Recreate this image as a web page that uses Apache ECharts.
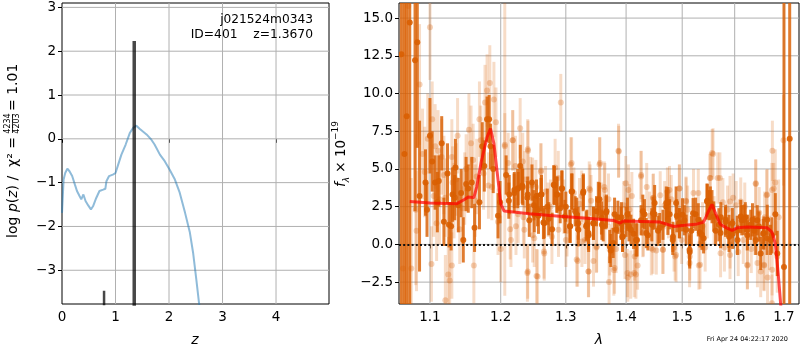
<!DOCTYPE html>
<html><head><meta charset="utf-8">
<script src="https://cdn.jsdelivr.net/npm/echarts@6/dist/echarts.min.js"></script>
<style>html,body{margin:0;padding:0;background:#fff}#c{width:800px;height:350px}</style>
</head><body><div id="c"></div>
<script>
// ---------- Left panel: log p(z) ----------
const pzZ   = [0.00,0.03,0.06,0.10,0.14,0.19,0.24,0.28,0.33,0.36,0.40,0.44,0.49,0.54,0.58,0.64,0.70,0.77,0.81,0.83,0.88,0.96,1.00,1.05,1.11,1.19,1.27,1.33,1.39,1.45,1.58,1.67,1.73,1.83,1.92,2.01,2.11,2.20,2.30,2.39,2.45,2.51,2.56,2.60];
const pzLog = [-1.69,-0.93,-0.78,-0.68,-0.74,-0.85,-1.04,-1.19,-1.31,-1.38,-1.27,-1.42,-1.52,-1.61,-1.54,-1.35,-1.19,-1.16,-1.14,-0.97,-0.85,-0.81,-0.78,-0.59,-0.36,-0.13,0.14,0.25,0.30,0.23,0.10,-0.02,-0.13,-0.36,-0.51,-0.70,-0.93,-1.23,-1.69,-2.14,-2.60,-3.21,-3.74,-4.10];
const spikeZ   = [0.786, 1.35];
const spikeTop = [-3.47, 2.23];
const leftXTicks = [0,1,2,3,4];
const leftYTicks = [-3,-2,-1,0,1,2,3];
const leftXRange = [0, 4.99];
const leftYRange = [-3.77, 3.1];

// ---------- Right panel: spectrum ----------
const modelWave = [1.073,1.100,1.137,1.147,1.153,1.161,1.165,1.172,1.180,1.185,1.190,1.195,1.200,1.205,1.243,1.290,1.345,1.378,1.390,1.395,1.460,1.485,1.500,1.525,1.540,1.550,1.556,1.563,1.572,1.585,1.595,1.605,1.625,1.665,1.675,1.682,1.688,1.693,1.696];
const modelFlux = [2.85,2.74,2.70,2.96,3.14,3.10,3.80,5.57,7.10,7.67,6.68,4.69,2.70,2.21,2.03,1.86,1.70,1.59,1.41,1.55,1.48,1.19,1.26,1.33,1.48,2.25,2.65,2.04,1.33,1.08,0.93,1.10,1.15,1.11,0.82,0.05,-1.94,-3.93,-5.0];

const darkWave = [1.062,1.066,1.069,1.073,1.080,1.083,1.086,1.094,1.096,1.100,1.103,1.107,1.110,1.112,1.116,1.119,1.124,1.126,1.129,1.131,1.134,1.135,1.139,1.143,1.146,1.150,1.153,1.158,1.162,1.169,1.173,1.176,1.180,1.183,1.185,1.189,1.196,1.199,1.208,1.212,1.220,1.226,1.232,1.240,1.247,1.250,1.254,1.257,1.261,1.266,1.273,1.282,1.286,1.291,1.294,1.300,1.307,1.310,1.315,1.320,1.328,1.334,1.337,1.345,1.350,1.355,1.359,1.366,1.374,1.378,1.386,1.392,1.394,1.400,1.405,1.413,1.419,1.426,1.432,1.438,1.445,1.450,1.456,1.465,1.471,1.474,1.477,1.483,1.490,1.495,1.504,1.514,1.517,1.525,1.533,1.540,1.547,1.551,1.556,1.563,1.573,1.582,1.589,1.596,1.605,1.614,1.621,1.625,1.632,1.639,1.645,1.652,1.657,1.665,1.675,1.682,1.686,1.700,1.712,
  1.2126,1.2202,1.2253,1.2292,1.2329,1.2405,1.2429,1.2505,1.2556,1.2617,1.2647,1.2708,1.2783,1.2808,1.2859,1.2935,1.2985,1.3066,1.3093,1.3175,1.3202,1.3284,1.3328,1.3366,1.3448,1.3530,1.3585,1.3612,1.3667,1.3721,1.3803,1.3831,1.3913,1.3940,1.4023,1.4084,1.4173,
  1.4291,1.4352,1.4470,1.4500,1.4590,1.4709,1.4738,1.4827,1.4888,1.4946,1.5006,1.5073,1.5137,1.5202,1.5300,1.5367,1.5465,1.5529,1.5594,1.5692,1.5725,1.5824,1.5888,1.5955,1.6054,1.6120,1.6186,1.6254,1.6354,1.6420,1.6486,1.6586,1.6654,1.6720];
const darkFlux = [12.6,6.0,8.5,14.7,12.2,13.4,3.2,4.1,2.3,7.2,5.5,4.1,2.8,4.2,6.7,1.5,4.7,1.3,1.2,3.3,3.1,5.1,2.6,3.4,0.3,4.0,3.7,4.1,1.1,2.8,6.5,5.2,8.3,8.3,6.5,5.0,1.9,2.8,4.6,2.9,3.4,3.7,3.9,3.1,4.1,2.6,3.2,1.9,3.3,1.4,1.7,3.9,3.3,2.4,3.7,2.5,1.2,3.5,2.2,1.4,3.4,1.3,0.6,1.4,2.2,3.0,1.3,2.1,-0.4,0.1,1.8,1.8,0.5,1.5,1.2,0.7,0.3,1.6,2.0,0.6,1.3,2.0,0.9,1.3,2.5,2.8,2.0,0.5,1.9,1.4,1.6,-0.5,0.9,2.0,0.8,0.4,2.9,2.6,2.5,0.9,1.8,1.5,0.5,0.7,0.9,1.6,1.8,0.6,1.3,0.9,1.6,-0.6,0.7,0.4,0.6,2.0,-0.6,-1.5,7.0,
  3.3,3.6,3.7,5.2,3.8,3.3,1.6,2.0,2.3,3.3,1.45,2.5,1.0,3.95,3.3,3.7,1.85,1.2,3.5,2.0,0.97,3.5,1.2,0.75,1.4,2.95,1.75,1.2,2.2,-0.14,2.0,0.97,1.4,0.5,2.0,0.97,0.3,
  2.2,0.75,2.07,2.74,1.08,2.74,1.63,0.3,2.74,1.41,1.96,0.97,-0.36,2.07,1.63,0.64,2.84,2.74,1.85,1.3,0.75,1.63,0.86,1.41,0.3,1.85,1.63,0.97,1.63,0.3,1.19,0.75,1.63,0.3];
const darkErr  = [30,30,25,25,10,7,5,2.2,1.8,2.5,2.0,1.8,2.0,1.7,1.8,1.6,2.0,1.5,1.6,1.8,1.5,1.9,1.8,1.6,1.5,1.8,1.6,1.7,1.6,1.8,1.6,1.7,1.5,1.6,1.5,1.6,1.5,1.4,1.3,1.2,1.3,1.1,1.2,1.1,1.2,1.0,1.1,1.2,1.1,1.0,1.1,1.3,1.2,1.0,1.2,1.0,1.1,1.2,1.0,1.1,1.2,1.0,1.1,1.1,1.0,1.1,1.0,1.1,1.1,1.0,1.1,1.0,1.0,1.0,1.0,1.0,1.1,1.0,1.0,1.0,1.1,1.0,1.0,1.0,1.1,1.0,1.0,1.0,1.1,1.0,1.0,1.1,1.0,1.1,1.0,1.0,1.1,1.0,1.1,1.0,1.0,1.0,1.0,1.0,1.0,1.0,1.0,1.0,1.0,1.0,1.0,1.1,1.0,1.1,1.2,1.4,1.5,25,30,
  1.3,1.2,1.3,1.4,1.2,1.2,1.1,1.2,1.1,1.3,1.1,1.2,1.1,1.3,1.2,1.2,1.1,1.1,1.2,1.1,1.1,1.2,1.0,1.1,1.1,1.2,1.1,1.0,1.1,1.1,1.1,1.0,1.1,1.0,1.1,1.0,1.1,
  1.1,1.0,1.1,1.2,1.0,1.1,1.0,1.0,1.1,1.0,1.1,1.0,1.1,1.0,1.1,1.0,1.2,1.1,1.0,1.1,1.0,1.0,1.1,1.0,1.0,1.1,1.0,1.0,1.1,1.0,1.0,1.1,1.0,1.0];

const lightWave = [1.064,1.071,1.075,1.081,1.082,1.086,1.090,1.093,1.097,1.100,1.102,1.103,1.105,1.107,1.109,1.111,1.113,1.116,1.119,1.121,1.121,1.125,1.127,1.130,1.130,1.131,1.133,1.136,1.138,1.141,1.145,1.148,1.150,1.154,1.157,1.160,1.161,1.163,1.165,1.169,1.171,1.175,1.177,1.180,1.182,1.184,1.187,1.190,1.193,1.196,1.200,1.206,1.211,1.214,1.218,1.222,1.226,1.229,1.234,1.236,1.240,1.241,1.245,1.248,1.253,1.254,1.261,1.266,1.268,1.272,1.278,1.283,1.288,1.292,1.297,1.302,1.308,1.313,1.319,1.322,1.326,1.331,1.337,1.338,1.341,1.345,1.350,1.355,1.358,1.363,1.364,1.370,1.371,1.377,1.379,1.383,1.387,1.396,1.398,1.403,1.404,1.408,1.410,1.415,1.417,1.420,1.426,1.430,1.436,1.441,1.447,1.448,1.453,1.460,1.465,1.468,1.473,1.475,1.480,1.485,1.487,1.495,1.499,1.507,1.510,1.514,1.521,1.531,1.538,1.543,1.547,1.552,1.558,1.560,1.567,1.577,1.580,1.586,1.591,1.597,1.603,1.607,1.617,1.620,1.625,1.633,1.640,1.642,1.649,1.652,1.659,1.660,1.664,1.666,1.670,1.675,1.675,1.676,1.682,1.686,1.689,1.699,
  1.2060,1.2177,1.2405,1.2329,1.2606,1.2480,1.2758,1.2152,1.2227,1.2353,1.2505,1.2656,1.2405,1.2556,1.2883,1.3001,1.3093,1.3175,1.3257,1.3394,1.3557,1.3639,1.3503,1.3366,1.3803,1.3721,1.3874,1.3994,1.4059,1.4023,1.4141,
  1.4262,1.4470,1.4768,1.4946,1.5073,1.5300,1.5563,1.5712,1.5529,1.5908,1.6120,1.6420,1.6654,1.6787,1.4888,1.5137,1.5333,1.5725,1.5908,1.6254,1.6454,1.6586,1.6754,1.4441,1.4648,1.4291];
const lightFlux = [-1.6,15.8,-1.6,2.3,0.9,10.6,6.0,4.8,7.0,14.4,-1.3,8.3,3.2,6.5,1.4,6.2,3.0,5.8,4.6,3.1,-3.7,-2.0,-2.4,-1.4,5.8,4.1,2.9,4.3,7.2,1.0,2.4,3.7,5.0,7.6,6.7,5.6,-1.4,2.9,4.5,8.3,6.9,4.7,9.4,10.2,3.9,10.7,3.8,9.6,8.1,1.5,-0.3,6.5,5.4,1.0,6.9,5.2,2.0,7.7,1.8,4.3,-1.9,6.2,3.9,0.6,3.8,-2.1,4.9,-0.6,3.5,2.3,0.5,5.1,4.4,9.4,2.5,0.9,5.3,3.4,-1.1,2.7,0.2,0.3,-1.8,3.7,2.9,-1.1,-0.2,5.3,2.4,3.8,1.6,3.0,-2.5,0.9,-1.7,-0.3,6.2,2.6,-0.7,-2.2,3.6,-2.0,3.2,-0.8,-2.0,-1.4,4.5,0.8,3.8,1.9,-0.35,3.1,-0.4,3.25,-0.35,2.6,3.5,2.0,3.0,-0.2,-0.8,3.7,0.3,2.9,2.3,-0.8,3.4,-1.4,1.2,-0.2,2.0,4.4,6.0,1.6,4.4,2.8,-0.2,2.3,0.0,3.1,2.6,-0.5,0.3,2.5,-1.4,-0.3,0.9,4.0,2.1,-1.8,-1.4,1.8,3.25,-2.2,0.1,3.6,-3.9,6.2,4.1,-0.8,1.8,6.9,
  6.6,6.9,6.3,5.5,4.8,3.95,2.5,0.3,1.2,0.97,0.4,-0.47,-1.8,-2.13,0.97,0.3,5.4,-1.0,3.2,3.6,5.4,3.6,-0.14,-1.8,-1.57,-0.36,6.16,4.06,2.3,-1.9,-1.9,
  4.6,3.07,3.6,3.7,2.84,3.4,6.05,4.4,4.4,2.84,2.84,4.06,3.3,3.7,-0.7,-1.24,-1.35,-0.58,-0.7,-1.35,-1.24,-1.35,-1.68,-0.25,-0.36,0.75];
const lightErr  = [20,20,6,5,4,4,3,3,3,3.5,2.5,2.5,2.7,2.8,2.5,2.7,3,2.5,2.6,2.6,3,2.5,2.5,2.2,2.5,2.4,2.5,2.4,2.5,2.3,2.5,2.4,2.3,2.4,2.5,2.4,2.5,2.4,2.5,2.5,2.3,2.4,2.5,2.4,2.2,2.5,2.2,2.5,2.3,2.2,2.2,2.2,2.0,2.0,2.0,2.0,1.9,2.0,1.9,1.9,1.9,2.0,1.9,1.8,1.8,1.8,1.8,1.8,1.7,1.8,1.8,1.9,1.8,1.9,1.8,1.7,1.8,1.7,1.7,1.7,1.7,1.6,1.7,1.8,1.7,1.7,1.7,1.8,1.7,1.7,1.7,1.7,1.7,1.6,1.7,1.6,1.8,1.6,1.6,1.6,1.7,1.6,1.6,1.6,1.6,1.6,1.7,1.6,1.6,1.6,1.6,1.6,1.6,1.6,1.6,1.6,1.6,1.6,1.6,1.6,1.6,1.6,1.6,1.6,1.6,1.6,1.6,1.6,1.6,1.6,1.6,1.6,1.7,1.6,1.7,1.6,1.6,1.6,1.6,1.6,1.6,1.6,1.6,1.6,1.6,1.6,1.6,1.6,1.7,1.7,1.7,1.7,1.7,1.8,1.8,1.8,1.9,2.0,2.2,2.4,2.5,3,10,
  2.0,2.0,1.9,1.9,1.8,1.8,1.8,1.9,1.9,1.9,1.8,1.8,1.8,1.8,1.8,1.7,1.8,1.7,1.7,1.7,1.8,1.7,1.7,1.7,1.7,1.7,1.8,1.7,1.6,1.6,1.6,
  1.6,1.6,1.6,1.6,1.6,1.6,1.7,1.7,1.7,1.6,1.6,1.7,1.7,1.8,1.6,1.6,1.6,1.6,1.6,1.6,1.7,1.7,1.8,1.6,1.6,1.6];
const rightXTicks = [1.1,1.2,1.3,1.4,1.5,1.6,1.7];
const rightYTicks = [-2.5,0,2.5,5,7.5,10,12.5,15];
const zeroLevel = 0;

// ---------- chart ----------
const FONT = 'DejaVu Sans';
const minus = s => String(s).replace('-', '\u2212');
const chart = echarts.init(document.getElementById('c'), null, {renderer:'canvas'});

function errRender(barColor, dotColor, r, lw){
  return function(params, api){
    const x = api.value(0), y = api.value(1), e = api.value(2);
    const c = api.coord([x, y]), t = api.coord([x, y + e]), b = api.coord([x, y - e]);
    return {type:'group', children:[
      {type:'line', shape:{x1:c[0], y1:t[1], x2:c[0], y2:b[1]}, style:{stroke:barColor, lineWidth:lw}},
      {type:'circle', shape:{cx:c[0], cy:c[1], r:r}, style:{fill:dotColor}}
    ]};
  };
}
// grid lines drawn through the axes' own scales (kind 0 = vertical, 1 = horizontal)
function gridSeries(idx, xs, ys, z){
  const data = [...xs.map(v=>[0, v]), ...ys.map(v=>[1, v])];
  return {type:'custom', xAxisIndex:idx, yAxisIndex:idx, silent:true, z:z, clip:false,
    data:data,
    renderItem:function(params, api){
      const cs = params.coordSys, kind = api.value(0), v = api.value(1);
      let shape;
      if (kind === 0) { const px = api.coord([v, 0])[0]; shape = {x1:px, y1:cs.y, x2:px, y2:cs.y + cs.height}; }
      else { const py = api.coord([0, v])[1]; shape = {x1:cs.x, y1:py, x2:cs.x + cs.width, y2:py}; }
      return {type:'line', shape:shape, style:{stroke:'#b0b0b0', lineWidth:1}};
    }};
}
const tickStyle = {length:4, lineStyle:{color:'#000', width:1}};
const labelStyle = {color:'#000', fontSize:13.5, fontFamily:FONT, hideOverlap:false};

const series = [];
series.push(gridSeries(0, leftXTicks.slice(1), leftYTicks, 3));
series.push(gridSeries(1, rightXTicks.map(Math.log), rightYTicks, 1));
series.push({type:'line', xAxisIndex:0, yAxisIndex:0, showSymbol:false, z:5, clip:true,
  lineStyle:{color:'rgba(31,119,180,0.5)', width:2}, data:pzZ.map((z,i)=>[z, pzLog[i]])});
spikeZ.forEach((z,i)=>{
  series.push({type:'line', xAxisIndex:0, yAxisIndex:0, showSymbol:false, z:6, clip:true,
    lineStyle:{color:'rgba(0,0,0,0.72)', width: i===1 ? 3.5 : 2.5}, data:[[z,-5],[z,spikeTop[i]]]});
});
series.push({type:'custom', xAxisIndex:1, yAxisIndex:1, z:3, clip:true,
  renderItem: errRender('rgba(217,95,2,0.22)','rgba(217,95,2,0.28)',3,3),
  encode:{x:0,y:1}, data:lightWave.map((w,i)=>[Math.log(w), lightFlux[i], lightErr[i]])});
series.push({type:'custom', xAxisIndex:1, yAxisIndex:1, z:4, clip:true,
  renderItem: errRender('rgba(217,95,2,0.82)','rgba(217,95,2,0.9)',3,3),
  encode:{x:0,y:1}, data:darkWave.map((w,i)=>[Math.log(w), darkFlux[i], darkErr[i]])});
series.push({type:'line', xAxisIndex:1, yAxisIndex:1, showSymbol:false, z:5, clip:true,
  lineStyle:{color:'rgba(255,0,0,0.7)', width:3}, data:modelWave.map((w,i)=>[Math.log(w), modelFlux[i]])});
series.push({type:'line', xAxisIndex:1, yAxisIndex:1, data:[[-100,-100]], showSymbol:false, silent:true, z:6,
  lineStyle:{opacity:0},
  markLine:{silent:true, symbol:['none','none'], label:{show:false}, emphasis:{disabled:true}, animation:false,
    lineStyle:{color:'#111', width:1.8, type:[2,2.2]}, data:[{yAxis:zeroLevel}]}});

const option = {
  animation:false,
  backgroundColor:'#fff',
  grid:[
    {left:62, top:3, width:267, height:301, show:true, borderColor:'#000', borderWidth:1, backgroundColor:'transparent'},
    {left:399, top:3, width:400, height:301, show:true, borderColor:'#000', borderWidth:1, backgroundColor:'transparent'}
  ],
  xAxis:[
    {type:'value', gridIndex:0, min:leftXRange[0], max:leftXRange[1], axisLine:{show:false}, splitLine:{show:false},
      axisTick:Object.assign({customValues:leftXTicks}, tickStyle),
      axisLabel:Object.assign({customValues:leftXTicks, margin:6, formatter:v=>minus(v)}, labelStyle)},
    {type:'value', gridIndex:1, min:Math.log(1.0589), max:Math.log(1.7317), axisLine:{show:false}, splitLine:{show:false},
      axisTick:Object.assign({customValues:rightXTicks.map(Math.log)}, tickStyle),
      axisLabel:Object.assign({customValues:rightXTicks.map(Math.log), margin:6, formatter:v=>Math.exp(v).toFixed(1)}, labelStyle)}
  ],
  yAxis:[
    {type:'value', gridIndex:0, min:leftYRange[0], max:leftYRange[1], axisLine:{show:false}, splitLine:{show:false},
      axisTick:Object.assign({customValues:leftYTicks}, tickStyle),
      axisLabel:Object.assign({customValues:leftYTicks, margin:6, formatter:v=>minus(v)}, labelStyle)},
    {type:'value', gridIndex:1, min:-3.95, max:16.0, axisLine:{show:false}, splitLine:{show:false},
      axisTick:Object.assign({customValues:rightYTicks}, tickStyle),
      axisLabel:Object.assign({customValues:rightYTicks, margin:6, formatter:v=>minus(v.toFixed(1))}, labelStyle)}
  ],
  graphic:[
    {type:'text', x:313, y:20, z:10, style:{text:'j021524m0343', font:'12.2px "DejaVu Sans"', fill:'#000', align:'right', verticalAlign:'middle'}},
    {type:'text', x:313, y:35, z:10, style:{text:'ID=401    z=1.3670', font:'12.3px "DejaVu Sans"', fill:'#000', align:'right', verticalAlign:'middle'}},
    {type:'text', x:195, y:340, style:{text:'z', font:'italic 14px "DejaVu Sans"', fill:'#000', align:'center', verticalAlign:'middle'}},
    {type:'text', x:599, y:340, style:{text:'λ', font:'italic 14px "DejaVu Sans"', fill:'#000', align:'center', verticalAlign:'middle'}},
    {type:'text', x:788, y:339, style:{text:'Fri Apr 24 04:22:17 2020', font:'6.5px "DejaVu Sans"', fill:'#000', align:'right', verticalAlign:'middle'}},
    {type:'group', x:13.3, y:154, rotation:Math.PI/2, children:[
      {type:'text', x:17, y:0, style:{text:'{n|log }{i|p}{n|(}{i|z}{n|) /  χ² =}', align:'right', verticalAlign:'middle',
        rich:{n:{fontSize:14, fontFamily:FONT, fill:'#000'}, i:{fontSize:14, fontFamily:FONT, fontStyle:'italic', fill:'#000'}}}},
      {type:'text', x:30.5, y:-5, style:{text:'4234', font:'8px "DejaVu Sans"', fill:'#000', align:'center', verticalAlign:'middle'}},
      {type:'rect', shape:{x:21, y:-1.2, width:19, height:0.8}, style:{fill:'#000'}},
      {type:'text', x:30.5, y:3.4, style:{text:'4203', font:'8px "DejaVu Sans"', fill:'#000', align:'center', verticalAlign:'middle'}},
      {type:'text', x:43, y:0, style:{text:'= 1.01', font:'14px "DejaVu Sans"', fill:'#000', align:'left', verticalAlign:'middle'}}
    ]},
    {type:'group', x:341, y:154, rotation:Math.PI/2, children:[
      {type:'text', x:0, y:0, style:{text:'{i|f}{sub|λ}{n| × 10}{sup|−19}', align:'center', verticalAlign:'middle',
        rich:{i:{fontSize:13.5, fontFamily:FONT, fontStyle:'italic', fill:'#000', lineHeight:20},
              n:{fontSize:13.5, fontFamily:FONT, fill:'#000', lineHeight:20},
              sub:{fontSize:9, fontFamily:FONT, fontStyle:'italic', fill:'#000', verticalAlign:'bottom'},
              sup:{fontSize:9, fontFamily:FONT, fill:'#000', verticalAlign:'top'}}}}
    ]}
  ],
  series: series
};
chart.setOption(option);
</script>
</body></html>
